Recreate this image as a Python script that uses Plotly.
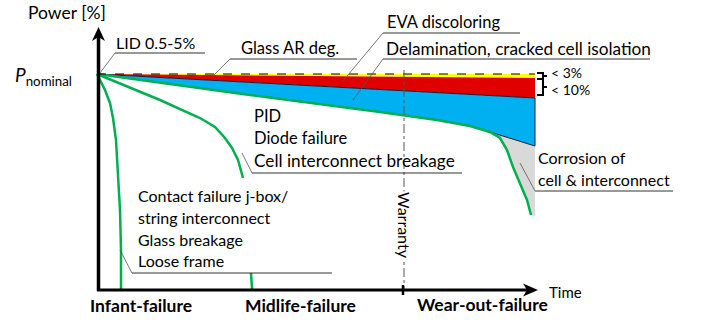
import plotly.graph_objects as go

# ---- data (diagram coordinates: time -> x, power -> y, pixel-like units) ----
t_start = 97          # P_nominal at time zero
p_nominal = 74
t_end = 535           # end of shown lifetime
t_warranty = 404

# degradation band boundaries at end of life
yellow_end = 78       # glass AR degradation (< 3%)
red_end = 98          # EVA discoloring (< 10%)
blue_end = 146        # delamination / cracked cell isolation
gray_end = 216        # corrosion

# wear-out green curve
wear_t = [97, 250, 380, 437, 470, 490, 500, 507, 513, 520, 527, 531]
wear_p = [74, 95, 112, 120, 126, 132, 138, 150, 167, 183, 200, 215]
knee = 5  # index where blue bottom leaves the green curve

# midlife green curve (gap where covered by text)
mid_t = [97, 160, 200, 215, 225, 232, 238, 243, None, 251, 252]
mid_p = [74, 100, 118, 127, 138, 148, 160, 178, None, 273, 289]

# infant green curve
inf_t = [97, 105, 110, 113, 116, 118, 120, 121, 121]
inf_p = [74, 90, 103, 118, 140, 170, 210, 250, 289]

GREEN = "#00B050"
FONT = "Lato"

fig = go.Figure()

# yellow band
fig.add_trace(go.Scatter(x=[t_start, t_end, t_end, t_start], y=[p_nominal, p_nominal, yellow_end, p_nominal],
                         fill="toself", fillcolor="#FFFF00", line=dict(width=0), mode="lines"))
# red band
fig.add_trace(go.Scatter(x=[t_start, t_end, t_end, t_start], y=[p_nominal, yellow_end, red_end, p_nominal],
                         fill="toself", fillcolor="#E00000", line=dict(width=0), mode="lines"))
# blue band
bx = [t_start, t_end, t_end] + wear_t[knee::-1]
by = [p_nominal, red_end, blue_end] + wear_p[knee::-1]
fig.add_trace(go.Scatter(x=bx, y=by, fill="toself", fillcolor="#00B0F0", line=dict(width=0), mode="lines"))
# gray corrosion band
gx = [wear_t[knee], t_end, t_end] + wear_t[:knee - 1:-1]
gy = [wear_p[knee], blue_end, gray_end] + wear_p[:knee - 1:-1]
fig.add_trace(go.Scatter(x=gx, y=gy, fill="toself", fillcolor="#D9D9D9", line=dict(width=0), mode="lines"))

# thin dark edges
fig.add_trace(go.Scatter(x=[t_start, t_end, t_end, wear_t[knee]], y=[p_nominal, red_end, blue_end, wear_p[knee]],
                         mode="lines", line=dict(color="#1a1a3a", width=1)))

# green curves
for xs, ys in [(wear_t, wear_p), (mid_t, mid_p), (inf_t, inf_p)]:
    fig.add_trace(go.Scatter(x=xs, y=ys, mode="lines", line=dict(color=GREEN, width=2.5), connectgaps=False))

# nominal dashed line
fig.add_trace(go.Scatter(x=[t_start, t_end], y=[p_nominal, p_nominal], mode="lines",
                         line=dict(color="black", width=1.2, dash="dash")))

shapes = []
# warranty line
shapes.append(dict(type="line", x0=t_warranty, x1=t_warranty, y0=70, y1=289,
                   line=dict(color="#555", width=1, dash="dashdot")))
# axes
shapes.append(dict(type="line", x0=98.5, x1=98.5, y0=291, y1=37, line=dict(color="black", width=3.5)))
shapes.append(dict(type="path", path="M 92 41 L 98.5 27 L 105 41 L 98.5 37 Z", fillcolor="black", line=dict(width=0)))
shapes.append(dict(type="line", x0=97, x1=530, y0=290, y1=290, line=dict(color="black", width=3)))
shapes.append(dict(type="path", path="M 523 283.5 L 538 290 L 523 296.5 L 527 290 Z", fillcolor="black", line=dict(width=0)))
shapes.append(dict(type="line", x0=403, x1=403, y0=285, y1=295, line=dict(color="black", width=2.5)))

# label underlines + leaders: (underline x0, x1, y, leader target x, y)
callouts = [
    (115, 205, 53, 100, 73),
    (230, 357, 59, 214, 75),
    (383, 520, 33, 343, 81),
    (383, 650, 59, 353, 100),
    (252, 462, 173, 242, 153),
    (132, 332, 273, 120, 250),
    (535, 673, 191, 520, 163),
]
for x0, x1, y, tx, ty in callouts:
    shapes.append(dict(type="line", x0=x0, x1=x1, y0=y, y1=y, line=dict(color="#333", width=1)))
    shapes.append(dict(type="line", x0=x0, x1=tx, y0=y, y1=ty, line=dict(color="#555", width=0.8)))

# braces
for ya, yb in [(73, 79), (79, 95)]:
    ym = (ya + yb) / 2
    shapes.append(dict(type="path",
                       path=f"M 537 {ya} L 543 {ya} L 543 {yb} L 537 {yb} M 543 {ym} L 547 {ym}",
                       line=dict(color="black", width=2)))

fig.update_layout(shapes=shapes)

def txt(s, x, y, size=16.5, anchor="left", bold=False, angle=0, bg=None):
    fig.add_annotation(text=(f"<b>{s}</b>" if bold else s), x=x, y=y, xref="x", yref="y",
                       showarrow=False, xanchor=anchor, yanchor="middle", textangle=angle,
                       font=dict(family=FONT, size=size, color="black"),
                       bgcolor=bg, borderpad=0)

txt("Power [%]", 27, 12, size=17.5)
txt("<i>P</i><sub>nominal</sub>", 14, 76, size=19)
txt("LID 0.5-5%", 115, 42, size=16)
txt("Glass AR deg.", 240, 48)
txt("EVA discoloring", 386, 22)
txt("Delamination, cracked cell isolation", 385, 48, size=17.2)
txt("&lt; 3%", 550, 72, size=14)
txt("&lt; 10%", 550, 89, size=14)
txt("PID", 253, 116)
txt("Diode failure", 253, 138)
txt("Cell interconnect breakage", 253, 160, size=17.2)
txt("Contact failure j-box/", 137, 195, size=16)
txt("string interconnect", 137, 217, size=16)
txt("Glass breakage", 137, 239, size=16)
txt("Loose frame", 137, 260, size=16)
txt("Corrosion of", 537, 157, size=16)
txt("cell &amp; interconnect", 537, 179, size=16)
txt("Warranty", t_warranty + 1, 225, size=16, angle=90, anchor="center", bg="white")
txt("Infant-failure", 141, 305, size=17.5, anchor="center", bold=True)
txt("Midlife-failure", 300, 305, size=17.5, anchor="center", bold=True)
txt("Wear-out-failure", 482, 304, size=17.5, anchor="center", bold=True)
txt("Time", 548, 292, size=15)

fig.update_layout(
    width=705, height=326, margin=dict(l=0, r=0, t=0, b=0),
    paper_bgcolor="white", plot_bgcolor="white", showlegend=False,
    xaxis=dict(range=[0, 705], visible=False, fixedrange=True),
    yaxis=dict(range=[326, 0], visible=False, fixedrange=True),
)
fig.write_html("out.html")
